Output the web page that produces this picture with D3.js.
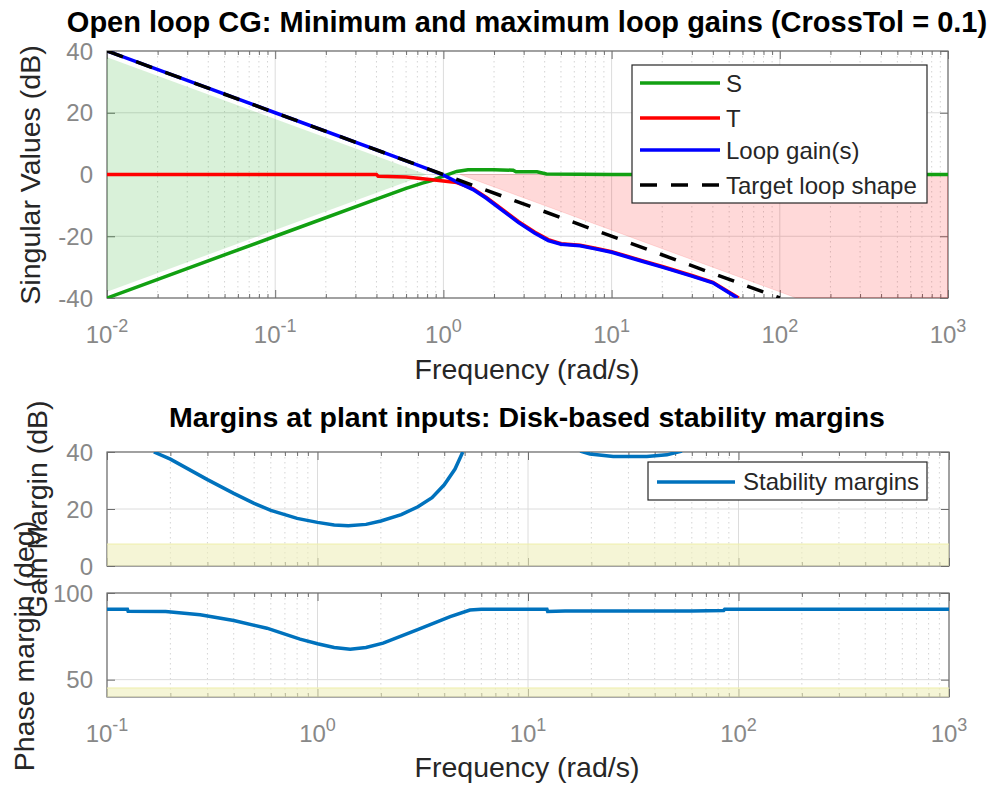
<!DOCTYPE html>
<html><head><meta charset="utf-8">
<script src="https://cdn.jsdelivr.net/npm/d3@7"></script>
<style>
body{margin:0;background:#fff}
svg{display:block}
text{font-family:"Liberation Sans",Arial,Helvetica,sans-serif}
</style>
</head><body>
<svg id="c" width="995" height="785"></svg>
<script>
// ---------------- DATA ----------------
// Top panel: singular values (dB) vs frequency (rad/s)
const topYTicks = [-40, -20, 0, 20, 40];
const topExponents = [-2, 3];
const sFreq = [0.01, 0.1, 0.4, 0.6, 0.75, 0.85, 1.0, 1.2, 1.4, 2.0, 2.6, 2.7, 3.6, 4.1, 10, 1000];
const sDb   = [-40, -20, -8, -4.5, -2.8, -2.0, -0.5, 1.0, 1.5, 1.5, 1.4, 0.9, 0.9, 0.2, 0, 0];
const tFreq = [0.01, 0.4, 0.41, 0.6, 0.83, 1.0, 1.2, 1.5, 1.8, 2.2, 2.8, 3.5, 4.2, 5, 6.5, 8, 10, 15, 20, 30, 40, 57];
const tDb   = [0, 0, -0.6, -0.8, -1.6, -2.1, -2.6, -4.6, -7.4, -11.0, -15.3, -18.7, -21.1, -22.4, -22.9, -23.9, -25.0, -27.8, -29.8, -32.7, -34.9, -40];
const lFreq = [0.01, 0.1, 0.5, 0.8, 1.0, 1.2, 1.5, 1.8, 2.2, 2.8, 3.5, 4.2, 5, 6.5, 8, 10, 15, 20, 30, 40, 56];
const lDb   = [40, 20, 6, 1.9, -0.2, -2.4, -4.9, -7.7, -11.3, -15.6, -19, -21.4, -22.6, -23.1, -24.1, -25.2, -28, -30, -32.9, -35.1, -40];
const targetFreq = [0.01, 100];
const targetDb   = [40, -40];
// shaded regions (freq, dB polygons)
const minGainFreq = [0.01, 0.794, 0.01];
const minGainDb   = [37.96, 0, -37.96];
const maxGainFreq = [1.259, 1000, 1000, 125.9];
const maxGainDb   = [0, 0, -40, -40];
const topLegend = ["S", "T", "Loop gain(s)", "Target loop shape"];

// Bottom panels: disk-based margins
const botExponents = [-1, 3];
const gmYTicks = [0, 20, 40];
const pmYTicks = [50, 100];
const gmFreqA = [0.167, 0.2, 0.3, 0.4, 0.5, 0.6, 0.8, 1.0, 1.2, 1.4, 1.7, 2.0, 2.5, 3.0, 3.5, 4.0, 4.5, 4.9];
const gmDbA   = [40, 37.5, 30.3, 25.5, 22, 19.5, 16.7, 15.3, 14.4, 14.1, 14.6, 15.8, 18, 20.8, 24, 28.5, 34, 40];
const gmFreqB = [17.7, 19.7, 25.4, 36.7, 45.7, 53.9];
const gmDbB   = [40.3, 39.3, 38.4, 38.4, 39, 40.3];
const pmFreq = [0.1, 0.125, 0.126, 0.19, 0.277, 0.4, 0.575, 0.826, 1.0, 1.2, 1.43, 1.7, 2.05, 2.97, 4.27, 5.3, 6, 12.3, 12.4, 15, 60, 85, 86, 1000];
const pmDeg  = [90.6, 90.6, 89.4, 89.3, 87.4, 84.1, 79.7, 73.4, 70.7, 68.6, 67.6, 68.6, 71.1, 78.7, 86.4, 90.2, 90.6, 90.6, 89.3, 89.6, 89.6, 89.9, 90.6, 90.6];
const gmBand = 7.7;
const pmBand = 45.2;
const botLegend = ["Stability margins"];

// ---------------- DRAWING ----------------
const svg = d3.select("#c");
const axisColor = "#6e6e6e", tickLabelColor = "#888888", labelColor = "#262626";
const colS = "#12a012", colT = "#ff0000", colL = "#0000ff", colM = "#0072bd";

function logTickSets(lo, hi){
  const major = [], minor = [];
  for (let e = lo; e <= hi; e++){
    major.push(Math.pow(10, e));
    if (e < hi) for (let k = 2; k <= 9; k++) minor.push(k * Math.pow(10, e));
  }
  return {major, minor};
}

let clipCount = 0;
function panel(x, y, yTicks, exps){
  const [x0, x1] = x.range();
  const [yb, yt] = y.range();
  const g = svg.append("g");
  const id = "clip" + (clipCount++);
  svg.append("clipPath").attr("id", id).append("rect")
    .attr("x", x0).attr("y", yt).attr("width", x1 - x0).attr("height", yb - yt);
  const {major, minor} = logTickSets(exps[0], exps[1]);
  // grid
  g.append("g").selectAll("line").data(minor).join("line")
    .attr("x1", d => x(d)).attr("x2", d => x(d)).attr("y1", yt).attr("y2", yb)
    .attr("stroke", "#d4d4d4").attr("stroke-width", 1).attr("stroke-dasharray", "1.5,3.5");
  g.append("g").selectAll("line").data(major).join("line")
    .attr("x1", d => x(d)).attr("x2", d => x(d)).attr("y1", yt).attr("y2", yb)
    .attr("stroke", "#dcdcdc").attr("stroke-width", 1);
  g.append("g").selectAll("line").data(yTicks).join("line")
    .attr("x1", x0).attr("x2", x1).attr("y1", d => y(d)).attr("y2", d => y(d))
    .attr("stroke", "#dcdcdc").attr("stroke-width", 1);
  // ticks via d3 axes (inward)
  const style = s => { s.select(".domain").remove(); s.selectAll("line").attr("stroke", axisColor); s.selectAll("text").remove(); };
  g.append("g").attr("transform", `translate(0,${yb})`).call(d3.axisBottom(x).tickValues(major).tickSize(-8).tickFormat("")).call(style);
  g.append("g").attr("transform", `translate(0,${yb})`).call(d3.axisBottom(x).tickValues(minor).tickSize(-4).tickFormat("")).call(style);
  g.append("g").attr("transform", `translate(0,${yt})`).call(d3.axisTop(x).tickValues(major).tickSize(-8).tickFormat("")).call(style);
  g.append("g").attr("transform", `translate(0,${yt})`).call(d3.axisTop(x).tickValues(minor).tickSize(-4).tickFormat("")).call(style);
  g.append("g").attr("transform", `translate(${x0},0)`).call(d3.axisLeft(y).tickValues(yTicks).tickSize(-8).tickFormat("")).call(style);
  g.append("g").attr("transform", `translate(${x1},0)`).call(d3.axisRight(y).tickValues(yTicks).tickSize(-8).tickFormat("")).call(style);
  // frame
  g.append("rect").attr("x", x0).attr("y", yt).attr("width", x1 - x0).attr("height", yb - yt)
    .attr("fill", "none").attr("stroke", axisColor).attr("stroke-width", 1.2);
  // y tick labels
  g.append("g").selectAll("text").data(yTicks).join("text")
    .attr("x", x0 - 14).attr("y", d => y(d)).attr("dy", "0.36em")
    .attr("text-anchor", "end").attr("fill", tickLabelColor).style("font-size", "24px")
    .text(d => d);
  const layer = svg.append("g").attr("clip-path", `url(#${id})`);
  return {g, layer, major, x0, x1, yb, yt};
}

function xTickLabels(p, x, yBase){
  const t = p.g.append("g").selectAll("text").data(p.major).join("text")
    .attr("x", d => x(d)).attr("y", yBase).attr("text-anchor", "middle")
    .attr("fill", tickLabelColor).style("font-size", "24px");
  t.append("tspan").text("10");
  t.append("tspan").attr("dy", -11).style("font-size", "18px").text(d => Math.round(Math.log10(d)));
}

function lineOf(x, y){ return d3.line().x(d => x(d[0])).y(d => y(d[1])); }

// ===== Top panel =====
const xTop = d3.scaleLog().domain([1e-2, 1e3]).range([107, 948]);
const yTop = d3.scaleLinear().domain([-40, 40]).range([298, 51]);
const pTop = panel(xTop, yTop, topYTicks, topExponents);
xTickLabels(pTop, xTop, 343);
const lt = lineOf(xTop, yTop);

pTop.layer.append("path").datum(d3.zip(minGainFreq, minGainDb)).attr("d", d => lt(d) + "Z")
  .attr("fill", "#00a000").attr("fill-opacity", 0.15).attr("stroke", "none");
pTop.layer.append("path").datum(d3.zip(maxGainFreq, maxGainDb)).attr("d", d => lt(d) + "Z")
  .attr("fill", "#ff0000").attr("fill-opacity", 0.15).attr("stroke", "#ff0000").attr("stroke-opacity", 0.12);

pTop.layer.append("path").datum(d3.zip(sFreq, sDb)).attr("d", lt)
  .attr("fill", "none").attr("stroke", colS).attr("stroke-width", 3.5);
pTop.layer.append("path").datum(d3.zip(tFreq, tDb)).attr("d", lt)
  .attr("fill", "none").attr("stroke", colT).attr("stroke-width", 3.5);
pTop.layer.append("path").datum(d3.zip(lFreq, lDb)).attr("d", lt)
  .attr("fill", "none").attr("stroke", colL).attr("stroke-width", 3.5);
pTop.layer.append("path").datum(d3.zip(targetFreq, targetDb)).attr("d", lt)
  .attr("fill", "none").attr("stroke", "#000").attr("stroke-width", 3.5).attr("stroke-dasharray", "17,14");

// top legend
const lg = svg.append("g");
lg.append("rect").attr("x", 632).attr("y", 65).attr("width", 295).attr("height", 138)
  .attr("fill", "#fff").attr("stroke", "#262626").attr("stroke-width", 1.2);
const legCols = [colS, colT, colL, "#000"];
const legY = [83, 118, 150, 185];
topLegend.forEach((name, i) => {
  lg.append("line").attr("x1", 640).attr("x2", 720).attr("y1", legY[i]).attr("y2", legY[i])
    .attr("stroke", legCols[i]).attr("stroke-width", 3.5)
    .attr("stroke-dasharray", i === 3 ? "17,14" : null);
  lg.append("text").attr("x", 726).attr("y", legY[i] + 9).attr("fill", labelColor)
    .style("font-size", "24px").text(name);
});

// titles/labels top
svg.append("text").attr("x", 527).attr("y", 32).attr("text-anchor", "middle")
  .style("font-size", "29px").style("font-weight", "bold").attr("fill", "#000")
  .text("Open loop CG: Minimum and maximum loop gains (CrossTol = 0.1)");
svg.append("text").attr("transform", "translate(40,175) rotate(-90)").attr("text-anchor", "middle")
  .style("font-size", "28.5px").attr("fill", labelColor).text("Singular Values (dB)");
svg.append("text").attr("x", 527).attr("y", 379).attr("text-anchor", "middle")
  .style("font-size", "28.5px").attr("fill", labelColor).text("Frequency (rad/s)");

// ===== Gain margin panel =====
const xBot = d3.scaleLog().domain([1e-1, 1e3]).range([107, 949]);
const yGm = d3.scaleLinear().domain([0, 40]).range([566, 452]);
const pGm = panel(xBot, yGm, gmYTicks, botExponents);
const lg1 = lineOf(xBot, yGm);
pGm.layer.append("path").datum(d3.zip(gmFreqA, gmDbA)).attr("d", lg1)
  .attr("fill", "none").attr("stroke", colM).attr("stroke-width", 3.5);
pGm.layer.append("path").datum(d3.zip(gmFreqB, gmDbB)).attr("d", lg1)
  .attr("fill", "none").attr("stroke", colM).attr("stroke-width", 3.5);
svg.append("rect").attr("x", 107).attr("y", yGm(gmBand)).attr("width", 949 - 107).attr("height", yGm(0) - yGm(gmBand))
  .attr("fill", "#eeeebb").attr("fill-opacity", 0.6).attr("stroke", "none");
svg.append("line").attr("x1", 107).attr("x2", 949).attr("y1", yGm(gmBand)).attr("y2", yGm(gmBand))
  .attr("stroke", "#eeeeaa").attr("stroke-width", 1);

// ===== Phase margin panel =====
const yPm = d3.scaleLinear().domain([40, 100]).range([697, 593]);
const pPm = panel(xBot, yPm, pmYTicks, botExponents);
xTickLabels(pPm, xBot, 742);
const lg2 = lineOf(xBot, yPm);
pPm.layer.append("path").datum(d3.zip(pmFreq, pmDeg)).attr("d", lg2)
  .attr("fill", "none").attr("stroke", colM).attr("stroke-width", 3.5);
svg.append("rect").attr("x", 107).attr("y", yPm(pmBand)).attr("width", 949 - 107).attr("height", yPm(40) - yPm(pmBand))
  .attr("fill", "#eeeebb").attr("fill-opacity", 0.6).attr("stroke", "none");
svg.append("line").attr("x1", 107).attr("x2", 949).attr("y1", yPm(pmBand)).attr("y2", yPm(pmBand))
  .attr("stroke", "#eeeeaa").attr("stroke-width", 1);

// bottom legend
const lg3 = svg.append("g");
lg3.append("rect").attr("x", 648).attr("y", 462).attr("width", 279).attr("height", 38)
  .attr("fill", "#fff").attr("stroke", "#262626").attr("stroke-width", 1.2);
lg3.append("line").attr("x1", 657).attr("x2", 735).attr("y1", 482).attr("y2", 482)
  .attr("stroke", colM).attr("stroke-width", 3.5);
lg3.append("text").attr("x", 743).attr("y", 490).attr("fill", labelColor)
  .style("font-size", "24px").text(botLegend[0]);

// bottom titles/labels
svg.append("text").attr("x", 527).attr("y", 427).attr("text-anchor", "middle")
  .style("font-size", "28.5px").style("font-weight", "bold").attr("fill", "#000")
  .text("Margins at plant inputs: Disk-based stability margins");
svg.append("text").attr("transform", "translate(47,509) rotate(-90)").attr("text-anchor", "middle")
  .style("font-size", "28.5px").attr("fill", labelColor).text("Gain Margin (dB)");
svg.append("text").attr("transform", "translate(34,646) rotate(-90)").attr("text-anchor", "middle")
  .style("font-size", "28.5px").attr("fill", labelColor).text("Phase margin (deg)");
svg.append("text").attr("x", 527).attr("y", 777).attr("text-anchor", "middle")
  .style("font-size", "28.5px").attr("fill", labelColor).text("Frequency (rad/s)");
</script>
</body></html>
